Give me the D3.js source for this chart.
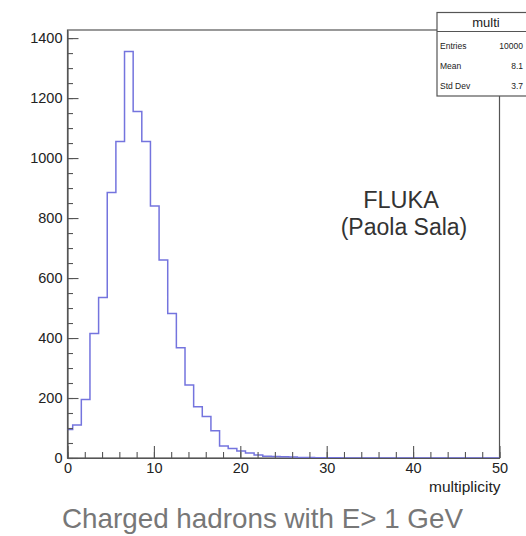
<!DOCTYPE html>
<html>
<head>
<meta charset="utf-8">
<script src="https://cdn.jsdelivr.net/npm/d3@7"></script>
<style>
  html, body { margin: 0; padding: 0; background: #fff; }
  svg { display: block; font-family: "Liberation Sans", Arial, Helvetica, sans-serif; }
</style>
</head>
<body>
<svg id="chart" width="526" height="536"></svg>
<script>
// ---- data ----
const binLow = -0.4;          // lower edge of first bin
const binWidth = 1;
const counts = [95, 110, 195, 415, 535, 885, 1055, 1355, 1155, 1055,
                840, 660, 482, 368, 243, 171, 138, 91, 40, 32,
                23, 17, 10, 6, 5, 4, 3, 2, 2, 1,
                1, 1, 0, 0, 0, 0, 0, 0, 0, 0,
                0, 0, 0, 0, 0, 0, 0, 0, 0, 0, 0];
const xTicks = [0, 10, 20, 30, 40, 50];
const yTicks = [0, 200, 400, 600, 800, 1000, 1200, 1400];
const statsTitle = "multi";
const statsLabels = ["Entries", "Mean", "Std Dev"];
const statsValues = ["10000", "8.1", "3.7"];
const xTitle = "multiplicity";
const caption = "Charged hadrons with E> 1 GeV";
const annotation = ["FLUKA", "(Paola Sala)"];

// ---- layout ----
const svg = d3.select("#chart");
const mL = 67.5, mR = 499.5, mT = 30, mB = 458;
const x = d3.scaleLinear().domain([0, 50]).range([mL, mR]);
const y = d3.scaleLinear().domain([0, 1427]).range([mB, mT]);
const axisColor = "#555";

// frame
svg.append("rect")
  .attr("x", mL).attr("y", mT)
  .attr("width", mR - mL).attr("height", mB - mT)
  .attr("fill", "none").attr("stroke", axisColor).attr("stroke-width", 1.2);

// histogram
const pts = counts.map((c, i) => [Math.max(0, binLow + i * binWidth), c]);
pts.push([Math.min(50, binLow + counts.length * binWidth), counts[counts.length - 1]]);
const clipped = pts.filter(p => p[0] <= 50);
const line = d3.line()
  .x(d => x(Math.min(50, d[0])))
  .y(d => y(d[1]))
  .curve(d3.curveStepAfter);
svg.append("path")
  .datum(clipped)
  .attr("d", line)
  .attr("fill", "none")
  .attr("stroke", "#7474de")
  .attr("stroke-width", 1.5);

// y axis
svg.append("g").attr("transform", `translate(${mL},0)`)
  .call(d3.axisLeft(y).tickValues(yTicks).tickSize(-11).tickSizeOuter(0).tickPadding(5).tickFormat(d3.format("d")));
svg.append("g").attr("transform", `translate(${mL},0)`)
  .call(d3.axisLeft(y).tickValues(d3.range(0, 1427, 50)).tickSize(-5.5).tickSizeOuter(0).tickFormat(""))
  .call(g => g.select(".domain").remove());

// x axis
svg.append("g").attr("transform", `translate(0,${mB})`)
  .call(d3.axisBottom(x).tickValues(xTicks).tickSize(-12).tickSizeOuter(0).tickPadding(5).tickFormat(d3.format("d")));
svg.append("g").attr("transform", `translate(0,${mB})`)
  .call(d3.axisBottom(x).tickValues(d3.range(0, 50.1, 2)).tickSize(-6).tickSizeOuter(0).tickFormat(""))
  .call(g => g.select(".domain").remove());

svg.selectAll(".tick line").attr("stroke", axisColor).attr("stroke-width", 1.1);
svg.selectAll(".domain").attr("stroke", axisColor).attr("stroke-width", 1.2);
svg.selectAll(".tick text").attr("fill", "#222").style("font-size", "14.5px");

// x title
svg.append("text")
  .attr("x", mR + 1).attr("y", 492)
  .attr("text-anchor", "end")
  .attr("fill", "#222").style("font-size", "15.5px")
  .text(xTitle);

// annotation
svg.append("text").attr("x", 401).attr("y", 208).attr("text-anchor", "middle")
  .attr("fill", "#333").style("font-size", "23.5px").text(annotation[0]);
svg.append("text").attr("x", 404).attr("y", 235).attr("text-anchor", "middle")
  .attr("fill", "#333").style("font-size", "23px").text(annotation[1]);

// caption
svg.append("text").attr("x", 62).attr("y", 528)
  .attr("fill", "#777").style("font-size", "27.8px").text(caption);

// stats box
const sb = svg.append("g");
sb.append("rect").attr("x", 437).attr("y", 12.5).attr("width", 130).attr("height", 83.5)
  .attr("fill", "#fff").attr("stroke", axisColor).attr("stroke-width", 1.2);
sb.append("line").attr("x1", 437).attr("x2", 567).attr("y1", 31.5).attr("y2", 31.5)
  .attr("stroke", axisColor).attr("stroke-width", 1);
sb.append("text").attr("x", 486).attr("y", 27).attr("text-anchor", "middle")
  .attr("fill", "#222").style("font-size", "13px").text(statsTitle);
statsLabels.forEach((lab, i) => {
  const yy = 49 + i * 20;
  sb.append("text").attr("x", 440).attr("y", yy).attr("fill", "#222")
    .style("font-size", "8.5px").text(lab);
  sb.append("text").attr("x", 523).attr("y", yy).attr("fill", "#222")
    .attr("text-anchor", "end")
    .style("font-size", "8.5px").text(statsValues[i]);
});
</script>
</body>
</html>
